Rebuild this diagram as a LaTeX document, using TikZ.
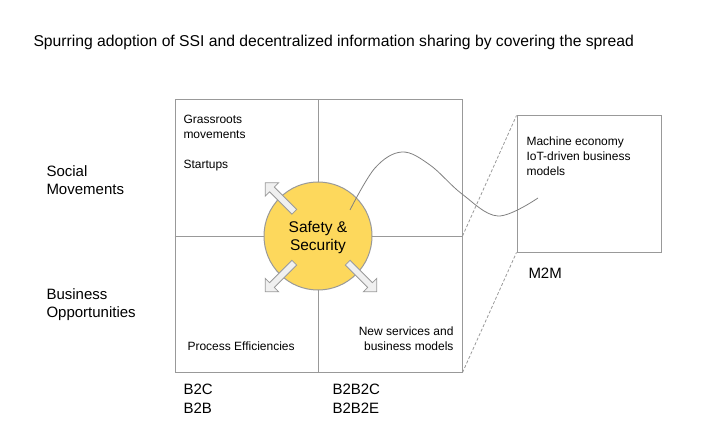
\documentclass[tikz,border=0pt]{standalone}
\usepackage{fontspec}
\setmainfont{Liberation Sans}
\usetikzlibrary{shapes.arrows}
\definecolor{lgray}{HTML}{999999}
\definecolor{sunny}{HTML}{FDD85C}

\begin{document}
\begin{tikzpicture}[x=1pt, y=-1pt, line width=1pt,
    box/.style={draw=lgray, inner sep=0pt},
    lbl/.style={font=\fontsize{15}{18}\selectfont, inner sep=0pt, align=left, anchor=base west},
    note/.style={font=\fontsize{12}{15}\selectfont, inner sep=0pt, align=left, anchor=base west},
    spread/.style={single arrow, draw=lgray, fill=gray!12, line width=0.8pt, minimum height=41pt,
        inner sep=3pt, single arrow head extend=6pt, single arrow tip angle=90}]
    \useasboundingbox (0,0) rectangle (702,441);

    % Title
    \node [lbl, font=\fontsize{15.7}{18}\selectfont] (title) at (33,46.7) {Spurring adoption of SSI and decentralized information sharing by covering the spread};

    % Grid {grid, zoom}
    \node [box, minimum width=287pt, minimum height=272pt] (grid) at (318.5,236) {};
    \node [box, minimum width=144pt, minimum height=136pt] (zoom) at (589,184) {};
    \draw [lgray] (grid.north) -- (grid.south);
    \draw [lgray] (grid.west) -- (grid.east);
    \draw [lgray, line width=0.8pt, dash pattern=on 3pt off 2pt] (grid.east) -- (zoom.north west);
    \draw [lgray, line width=0.8pt, dash pattern=on 3pt off 2pt] (grid.south east) -- (zoom.south west);

    % Centre
    \node [circle, draw=lgray, fill=sunny, minimum size=108pt] (safety) at (318,236) {};
    \node [align=center, inner sep=0pt, anchor=base, font=\fontsize{15.5}{18}\selectfont]
        (safetytext) at (318,250.7) {Safety \&\\Security};
    \draw [gray, line width=0.8pt] plot [smooth, tension=0.6] coordinates
        {(350,210) (375,168) (402,152) (430,165) (462,194) (498,216) (538,198)};
    \node [spread, rotate=135] (grow) at (281,198.5) {};
    \node [spread, rotate=225] (save) at (281,276) {};
    \node [spread, rotate=-45]  (serve) at (361,276) {};

    % Rows
    \node [lbl] (social)   at (46,194.3) {Social\\Movements};
    \node [lbl] (business) at (46,317.3) {Business\\Opportunities};

    % Quadrants
    \node [note] (grass)   at (183,138.7) {Grassroots\\movements};
    \node [note] (start)   at (183,168.3) {Startups};
    \node [note] (process) at (187,350)   {Process Efficiencies};
    \node [note, align=right, anchor=base east] (services) at (454,350) {New services and\\business models};

    % Columns
    \node [lbl, font=\fontsize{15}{19}\selectfont] (b2c)   at (183,413.3) {B2C\\B2B};
    \node [lbl, font=\fontsize{15}{19}\selectfont] (b2b2c) at (332,413.3) {B2B2C\\B2B2E};

    % Zoom
    \node [note] (machine) at (526,176) {Machine economy\\IoT-driven business\\models};
    \node [lbl] (m2m) at (528,278.3) {M2M};
\end{tikzpicture}
\end{document}
